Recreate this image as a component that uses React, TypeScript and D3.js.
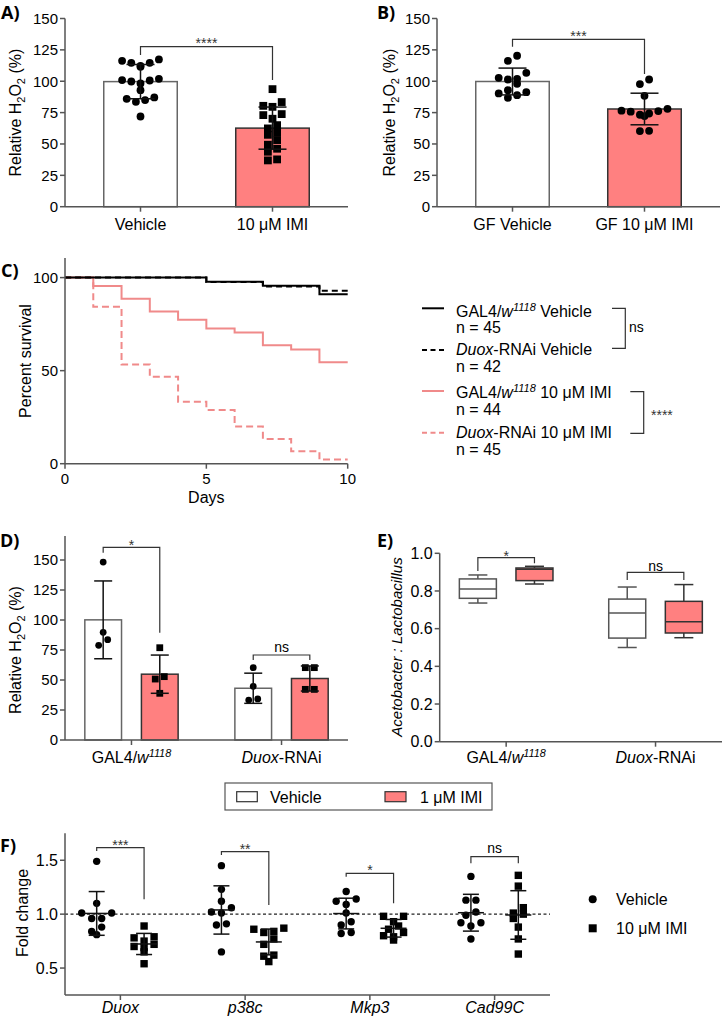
import React from 'react';
import * as d3 from 'd3';

const FONT = "'Liberation Sans', Arial, Helvetica, sans-serif";
const LABEL_FONT = "'Open Sans', 'Liberation Sans', Arial, sans-serif";
const PINK = '#ff8080';
const PINK_LINE = '#f08a8a';
const AX = '#555555';

// ---------- Panel A ----------
const aCategories = ['Vehicle', '10 μM IMI'];
const aVehicle = [117.4, 116.3, 114.7, 114.7, 112.3, 111.5, 101.9, 100.9, 100.6, 99.8, 98.2, 92.9, 87.1, 86.0, 85.0, 83.6, 71.9];
const aIMI = [93.7, 83.4, 80.4, 79.6, 73.8, 73.0, 70.1, 65.0, 62.4, 58.9, 57.3, 53.1, 49.4, 46.2, 43.8, 37.7, 36.9];

// ---------- Panel B ----------
const bCategories = ['GF Vehicle', 'GF 10 μM IMI'];
const bVehicle = [120.3, 116.3, 106.7, 102.7, 101.4, 101.9, 98.0, 92.9, 90.3, 86.8, 88.9, 91.3];
const bIMI = [101.4, 97.7, 88.4, 78.0, 76.5, 76.2, 75.7, 74.3, 73.3, 72.2, 60.5, 60.3];

// ---------- Panel C ----------
const cDays = [0, 1, 2, 3, 4, 5, 6, 7, 8, 9, 10];
const cGal4Vehicle = [100, 100, 100, 100, 100, 97.8, 97.8, 95.6, 95.6, 91.1, 91.1];
const cDuoxVehicle = [100, 100, 100, 100, 100, 97.6, 97.6, 95.2, 95.2, 92.9, 92.9];
const cGal4IMI = [100, 95.5, 88.6, 81.8, 77.3, 72.7, 70.5, 63.6, 61.4, 54.5, 54.5];
const cDuoxIMI = [100, 84.4, 53.3, 46.7, 33.3, 28.9, 20.0, 13.3, 6.7, 2.2, 2.2];
const cN = [45, 42, 44, 45];

// ---------- Panel D ----------
const dGroups = ['GAL4', 'Duox'];
const dVehicle = [[148.3, 89.7, 83.6, 78.9], [60.3, 44.7, 34.2, 33.3]];
const dIMI = [[76.9, 52.8, 50.8, 38.9], [60.3, 60.3, 42.2, 42.2]];

// ---------- Panel E : [min, q1, median, q3, max] ----------
const eGroups = ['GAL4', 'Duox'];
const eVehicle = [[0.736, 0.761, 0.81, 0.864, 0.885], [0.5, 0.55, 0.683, 0.757, 0.821]];
const eIMI = [[0.837, 0.855, 0.915, 0.922, 0.931], [0.552, 0.577, 0.637, 0.745, 0.834]];

// ---------- Panel F ----------
const fGenes = ['Duox', 'p38c', 'Mkp3', 'Cad99C'];
const fVehicle = [
  [1.49, 1.10, 1.01, 1.01, 0.96, 0.96, 0.88, 0.84, 0.81],
  [1.45, 1.23, 1.12, 1.06, 1.02, 1.01, 0.91, 0.90, 0.65],
  [1.21, 1.14, 1.12, 1.09, 1.01, 0.93, 0.90, 0.83, 0.82],
  [1.35, 1.13, 1.13, 1.02, 0.99, 0.92, 0.92, 0.89, 0.77],
];
const fIMI = [
  [0.89, 0.79, 0.78, 0.75, 0.72, 0.70, 0.69, 0.65, 0.54],
  [0.87, 0.86, 0.84, 0.83, 0.77, 0.72, 0.62, 0.61, 0.56],
  [0.98, 0.98, 0.93, 0.89, 0.86, 0.83, 0.80, 0.79, 0.76],
  [1.36, 1.26, 1.06, 1.01, 1.00, 0.96, 0.88, 0.77, 0.63],
];
const fSig = ['***', '**', '*', 'ns'];

// ---------- helpers ----------
function swarm(values: number[], y: (v: number) => number, spacing: number, thresh: number) {
  const idx = values.map((_, i) => i).sort((a, b) => values[b] - values[a]);
  const bins: number[][] = [];
  let cur: number[] = [];
  let top = 0;
  for (const i of idx) {
    const py = y(values[i]);
    if (cur.length && Math.abs(py - top) <= thresh) cur.push(i);
    else {
      if (cur.length) bins.push(cur);
      cur = [i];
      top = py;
    }
  }
  if (cur.length) bins.push(cur);
  const off = new Array(values.length).fill(0);
  for (const b of bins) {
    const k = b.length;
    const slots = d3.range(k).map((j) => (j - (k - 1) / 2) * spacing)
      .sort((p, q) => Math.abs(p) - Math.abs(q) || p - q);
    const sorted = b.slice().sort((p, q) => values[p] - values[q]);
    sorted.forEach((pi, j) => (off[pi] = slots[j]));
  }
  return off;
}

function YAxis({ x, scale, ticks, fmt, top, bottom, fs = 15 }: any) {
  return (
    <g>
      <line x1={x} x2={x} y1={top} y2={bottom} stroke={AX} strokeWidth={1.5} />
      {ticks.map((t: number) => (
        <g key={t}>
          <line x1={x - 5} x2={x} y1={scale(t)} y2={scale(t)} stroke={AX} strokeWidth={1.5} />
          <text x={x - 7} y={scale(t)} dy="0.36em" textAnchor="end" fontSize={fs}>{fmt(t)}</text>
        </g>
      ))}
    </g>
  );
}

function XAxis({ x1, x2, y, ticks }: any) {
  return (
    <g>
      <line x1={x1} x2={x2} y1={y} y2={y} stroke={AX} strokeWidth={1.5} />
      {ticks.map((t: number, i: number) => (
        <line key={i} x1={t} x2={t} y1={y} y2={y + 5} stroke={AX} strokeWidth={1.5} />
      ))}
    </g>
  );
}

function ErrBar({ x, y1, y2, cap, mid, midW }: any) {
  return (
    <g stroke="#111" strokeWidth={1.5}>
      <line x1={x} x2={x} y1={y1} y2={y2} />
      <line x1={x - cap / 2} x2={x + cap / 2} y1={y1} y2={y1} />
      <line x1={x - cap / 2} x2={x + cap / 2} y1={y2} y2={y2} />
      {mid !== undefined && <line x1={x - midW / 2} x2={x + midW / 2} y1={mid} y2={mid} />}
    </g>
  );
}

function Bracket({ x1, x2, y, l1, l2 }: any) {
  return <path d={`M${x1},${l1}V${y}H${x2}V${l2}`} fill="none" stroke="#333" strokeWidth={1.2} />;
}

function Marker({ shape, x, y, s }: any) {
  return shape === 'circle'
    ? <circle cx={x} cy={y} r={s / 2} fill="#000" />
    : <rect x={x - s / 2} y={y - s / 2} width={s} height={s} fill="#000" />;
}

function H2O2Label({ x, y }: any) {
  return (
    <text transform={`translate(${x},${y}) rotate(-90)`} textAnchor="middle" fontSize={16}>
      Relative H<tspan fontSize={11} dy={4}>2</tspan><tspan dy={-4}>O</tspan>
      <tspan fontSize={11} dy={4}>2</tspan><tspan dy={-4}> (%)</tspan>
    </text>
  );
}

function Gal4Label({ x, y, fs = 16 }: any) {
  return (
    <text x={x} y={y} textAnchor="middle" fontSize={fs}>
      GAL4/<tspan fontStyle="italic">w</tspan>
      <tspan fontStyle="italic" fontSize={fs * 0.68} dy={-6}>1118</tspan>
    </text>
  );
}

function DuoxLabel({ x, y, fs = 16 }: any) {
  return (
    <text x={x} y={y} textAnchor="middle" fontSize={fs}>
      <tspan fontStyle="italic">Duox</tspan>-RNAi
    </text>
  );
}

function BarPanel({ cats, series, xr, label, labelX, axisX, sig, br }: any) {
  const y = d3.scaleLinear().domain([0, 150]).range([206.7, 18.5]);
  const x = d3.scalePoint<string>().domain(cats).range(xr).padding(0.572);
  return (
    <g>
      <YAxis x={axisX} scale={y} ticks={d3.range(0, 151, 25)} fmt={(t: number) => String(t)} top={y(150)} bottom={y(0)} />
      {series.map((vals: number[], i: number) => {
        const cx = x(cats[i])!;
        const m = d3.mean(vals)!;
        const sd = d3.deviation(vals)!;
        const offs = swarm(vals, y, 9.2, 7);
        return (
          <g key={i}>
            <rect x={cx - 36.75} y={y(m)} width={73.5} height={y(0) - y(m)}
              fill={i ? PINK : '#fff'} stroke={i ? '#333' : '#666'} strokeWidth={1.5} />
            {vals.map((v, j) => (
              <Marker key={j} shape={label === 'A' ? (i ? 'square' : 'circle') : 'circle'} x={cx + offs[j]} y={y(v)} s={7.8} />
            ))}
            <ErrBar x={cx} y1={y(m + sd)} y2={y(m - sd)} cap={28} />
          </g>
        );
      })}
      <XAxis x1={axisX} x2={xr[1]} y={y(0)} ticks={cats.map((c: string) => x(c))} />
      {cats.map((c: string) => (
        <text key={c} x={x(c)} y={230} textAnchor="middle" fontSize={16}>{c}</text>
      ))}
      <H2O2Label x={labelX} y={112.6} />
      <Bracket x1={x(cats[0])} x2={x(cats[1])} y={br.y} l1={br.l1} l2={br.l2} />
      <text x={(x(cats[0])! + x(cats[1])!) / 2} y={br.y + 1.6} textAnchor="middle" fontSize={14} fill="#333">{sig}</text>
    </g>
  );
}

export default function App() {
  // ----- Panel C scales
  const xC = d3.scaleLinear().domain([0, 10]).range([65, 347.7]);
  const yC = d3.scaleLinear().domain([0, 100]).range([463.7, 277.6]);
  const line = d3.line<[number, number]>().x((d) => xC(d[0])).y((d) => yC(d[1])).curve(d3.curveStepAfter);
  const toPts = (arr: number[]) => cDays.map((d, i) => [d, arr[i]] as [number, number]);

  // ----- Panel D scales
  const yD = d3.scaleLinear().domain([0, 170]).range([740, 536]);
  const xD = d3.scalePoint<string>().domain(dGroups).range([65, 348]).padding(0.443);

  // ----- Panel E scales
  const yE = d3.scaleLinear().domain([0, 1]).range([741.7, 553.3]);
  const xE = d3.scalePoint<string>().domain(eGroups).range([439.7, 722]).padding(0.445);

  // ----- Panel F scales
  const yF = d3.scaleLinear().domain([0.25, 1.75]).range([995, 833.3]);
  const xF = d3.scalePoint<string>().domain(fGenes).range([65, 550]).padding(0.444);

  const legendC = [
    { stroke: '#000', dash: undefined, y: 308.3 },
    { stroke: '#000', dash: '5,3.5', y: 350 },
    { stroke: PINK_LINE, dash: undefined, y: 391 },
    { stroke: PINK_LINE, dash: '5,3.5', y: 432.7 },
  ];

  return (
    <svg width={724} height={1021} style={{ position: 'absolute', left: 0, top: 0, background: '#fff' }}
      fontFamily={FONT} fill="#000">
      <rect width={724} height={1021} fill="#fff" />

      {/* Panel labels */}
      <g fontFamily={LABEL_FONT} fontWeight="bold" fontSize={18}>
        <text x={1} y={19}>A)</text>
        <text x={377} y={19}>B)</text>
        <text x={1} y={277}>C)</text>
        <text x={0} y={547}>D)</text>
        <text x={377} y={547}>E)</text>
        <text x={0} y={852}>F)</text>
      </g>

      {/* ---------- A ---------- */}
      <BarPanel cats={aCategories} series={[aVehicle, aIMI]} xr={[65, 348]} axisX={65} label="A" labelX={21}
        sig="****" br={{ y: 46.7, l1: 55, l2: 80 }} />

      {/* ---------- B ---------- */}
      <BarPanel cats={bCategories} series={[bVehicle, bIMI]} xr={[437, 720]} axisX={437} label="B" labelX={395}
        sig="***" br={{ y: 39.3, l1: 46.7, l2: 74 }} />

      {/* ---------- C ---------- */}
      <g>
        <path d={line(toPts(cGal4IMI))!} fill="none" stroke={PINK_LINE} strokeWidth={2} />
        <path d={line(toPts(cDuoxIMI))!} fill="none" stroke={PINK_LINE} strokeWidth={2} strokeDasharray="7,4" />
        <path d={line(toPts(cGal4Vehicle))!} fill="none" stroke="#000" strokeWidth={2} />
        <path d={line(toPts(cDuoxVehicle))!} fill="none" stroke="#000" strokeWidth={2} strokeDasharray="6,4" />
        <YAxis x={65} scale={yC} ticks={[0, 50, 100]} fmt={(t: number) => String(t)} top={258} bottom={yC(0)} />
        <XAxis x1={65} x2={xC(10)} y={yC(0)} ticks={[0, 5, 10].map((t) => xC(t))} />
        {[0, 5, 10].map((t) => (
          <text key={t} x={xC(t)} y={483.5} textAnchor="middle" fontSize={15}>{t}</text>
        ))}
        <text x={xC(5)} y={503} textAnchor="middle" fontSize={16}>Days</text>
        <text transform="translate(31,361) rotate(-90)" textAnchor="middle" fontSize={16}>Percent survival</text>

        {/* legend */}
        {legendC.map((l, i) => (
          <line key={i} x1={422} x2={444} y1={l.y} y2={l.y} stroke={l.stroke} strokeWidth={2} strokeDasharray={l.dash} />
        ))}
        <g fontSize={16}>
          <text x={456} y={316.7}>GAL4/<tspan fontStyle="italic">w</tspan><tspan fontStyle="italic" fontSize={11} dy={-6}>1118</tspan><tspan dy={6}> Vehicle</tspan></text>
          <text x={456} y={333.3}>n = {cN[0]}</text>
          <text x={456} y={355}><tspan fontStyle="italic">Duox</tspan>-RNAi Vehicle</text>
          <text x={456} y={371.7}>n = {cN[1]}</text>
          <text x={456} y={398.3}>GAL4/<tspan fontStyle="italic">w</tspan><tspan fontStyle="italic" fontSize={11} dy={-6}>1118</tspan><tspan dy={6}> 10 μM IMI</tspan></text>
          <text x={456} y={415}>n = {cN[2]}</text>
          <text x={456} y={438.3}><tspan fontStyle="italic">Duox</tspan>-RNAi 10 μM IMI</text>
          <text x={456} y={455}>n = {cN[3]}</text>
        </g>
        <path d="M612,308.3H625.3V348.3H612" fill="none" stroke="#333" strokeWidth={1.2} />
        <text x={629} y={331.7} fontSize={14}>ns</text>
        <path d="M630.3,391.7H643.7V433.3H630.3" fill="none" stroke="#333" strokeWidth={1.2} />
        <text x={651} y={420} fontSize={14} fill="#333">****</text>
      </g>

      {/* ---------- D ---------- */}
      <g>
        <YAxis x={65} scale={yD} ticks={d3.range(0, 151, 25)} fmt={(t: number) => String(t)} top={yD(170)} bottom={yD(0)} />
        {dGroups.map((g, gi) => {
          const c = xD(g)!;
          return [dVehicle[gi], dIMI[gi]].map((vals, i) => {
            const cx = c + (i ? 28.3 : -28.3);
            const m = d3.mean(vals)!;
            const sd = d3.deviation(vals)!;
            const offs = swarm(vals, yD, 9, 6);
            return (
              <g key={`${gi}-${i}`}>
                <rect x={cx - 18.35} y={yD(m)} width={36.7} height={yD(0) - yD(m)}
                  fill={i ? PINK : '#fff'} stroke={i ? '#333' : '#666'} strokeWidth={1.5} />
                {vals.map((v, j) => (
                  <Marker key={j} shape={i ? 'square' : 'circle'} x={cx + offs[j]} y={yD(v)} s={6.8} />
                ))}
                <ErrBar x={cx} y1={yD(m + sd)} y2={yD(m - sd)} cap={18} />
              </g>
            );
          });
        })}
        <XAxis x1={65} x2={348} y={yD(0)} ticks={dGroups.map((g) => xD(g))} />
        <Gal4Label x={xD('GAL4')} y={763} />
        <DuoxLabel x={xD('Duox')} y={763} />
        <H2O2Label x={21} y={650} />
        <Bracket x1={xD('GAL4')! - 28.3} x2={xD('GAL4')! + 28.3} y={547.3} l1={552.7} l2={632.7} />
        <text x={xD('GAL4')} y={549.5} textAnchor="middle" fontSize={14} fill="#333">*</text>
        <Bracket x1={xD('Duox')! - 28.3} x2={xD('Duox')! + 28.3} y={655} l1={660} l2={660} />
        <text x={xD('Duox')} y={651.5} textAnchor="middle" fontSize={14}>ns</text>
      </g>

      {/* ---------- E ---------- */}
      <g>
        <YAxis x={439.7} scale={yE} ticks={d3.range(0, 1.01, 0.2)} fmt={d3.format('.1f')} top={yE(1)} bottom={yE(0)} fs={16} />
        {eGroups.map((g, gi) => {
          const c = xE(g)!;
          return [eVehicle[gi], eIMI[gi]].map((b, i) => {
            const cx = c + (i ? 28.3 : -28.3);
            const [mn, q1, md, q3, mx] = b;
            const stroke = i ? '#333' : '#555';
            return (
              <g key={`${gi}-${i}`} stroke={stroke} strokeWidth={1.5}>
                <line x1={cx} x2={cx} y1={yE(mx)} y2={yE(q3)} />
                <line x1={cx} x2={cx} y1={yE(q1)} y2={yE(mn)} />
                <line x1={cx - 9.5} x2={cx + 9.5} y1={yE(mx)} y2={yE(mx)} />
                <line x1={cx - 9.5} x2={cx + 9.5} y1={yE(mn)} y2={yE(mn)} />
                <rect x={cx - 18.5} y={yE(q3)} width={37} height={yE(q1) - yE(q3)} fill={i ? PINK : '#fff'} />
                <line x1={cx - 18.5} x2={cx + 18.5} y1={yE(md)} y2={yE(md)} />
              </g>
            );
          });
        })}
        <XAxis x1={439.7} x2={722} y={yE(0)} ticks={eGroups.map((g) => xE(g))} />
        <Gal4Label x={xE('GAL4')} y={763} />
        <DuoxLabel x={xE('Duox')} y={763} />
        <text transform="translate(402,647) rotate(-90)" textAnchor="middle" fontSize={15} fontStyle="italic">Acetobacter : Lactobacillus</text>
        <Bracket x1={xE('GAL4')! - 28.3} x2={xE('GAL4')! + 28.3} y={557.7} l1={571} l2={563.3} />
        <text x={xE('GAL4')} y={561} textAnchor="middle" fontSize={14} fill="#333">*</text>
        <Bracket x1={xE('Duox')! - 28.3} x2={xE('Duox')! + 28.3} y={572.3} l1={580} l2={580} />
        <text x={xE('Duox')} y={570.7} textAnchor="middle" fontSize={14}>ns</text>
      </g>

      {/* ---------- D/E legend ---------- */}
      <g>
        <rect x={225} y={783} width={267} height={27} fill="#fff" stroke="#555" strokeWidth={1.2} />
        <rect x={236.7} y={791.7} width={20.6} height={10} fill="#fff" stroke="#333" strokeWidth={1.2} />
        <text x={270} y={803} fontSize={16}>Vehicle</text>
        <rect x={385} y={791.7} width={21} height={10} fill={PINK} stroke="#333" strokeWidth={1.2} />
        <text x={420} y={803} fontSize={16}>1 μM IMI</text>
      </g>

      {/* ---------- F ---------- */}
      <g>
        <line x1={65} x2={550} y1={yF(1)} y2={yF(1)} stroke="#222" strokeWidth={1.2} strokeDasharray="3,2.5" />
        {fGenes.map((g, gi) => {
          const c = xF(g)!;
          return [fVehicle[gi], fIMI[gi]].map((vals, i) => {
            const cx = c + (i ? 23.7 : -23.7);
            const m = d3.mean(vals)!;
            const sd = d3.deviation(vals)!;
            const offs = swarm(vals, yF, 10, 6);
            return (
              <g key={`${gi}-${i}`}>
                {vals.map((v, j) => (
                  <Marker key={j} shape={i ? 'square' : 'circle'} x={cx + offs[j]} y={yF(v)} s={7.4} />
                ))}
                <ErrBar x={cx} y1={yF(m + sd)} y2={yF(m - sd)} cap={16} mid={yF(m)} midW={26} />
              </g>
            );
          });
        })}
        <YAxis x={65} scale={yF} ticks={[0.5, 1.0, 1.5]} fmt={d3.format('.1f')} top={833.3} bottom={995} fs={16} />
        <XAxis x1={65} x2={550} y={995} ticks={fGenes.map((g) => xF(g))} />
        {fGenes.map((g) => (
          <text key={g} x={xF(g)} y={1013} textAnchor="middle" fontSize={16} fontStyle="italic">{g}</text>
        ))}
        <text transform="translate(27.5,913) rotate(-90)" textAnchor="middle" fontSize={16}>Fold change</text>
        {/* significance */}
        <Bracket x1={xF('Duox')! - 23.7} x2={xF('Duox')! + 23.7} y={847.7} l1={851} l2={899.3} />
        <Bracket x1={xF('p38c')! - 23.7} x2={xF('p38c')! + 23.7} y={851.7} l1={855} l2={905} />
        <Bracket x1={xF('Mkp3')! - 23.7} x2={xF('Mkp3')! + 23.7} y={873.3} l1={876.7} l2={903.3} />
        <Bracket x1={xF('Cad99C')! - 23.7} x2={xF('Cad99C')! + 23.7} y={856.7} l1={863.3} l2={863.3} />
        {fGenes.map((g, gi) => {
          const yy = [850, 854.3, 875, 853.3][gi];
          return (
            <text key={g} x={xF(g)} y={yy} textAnchor="middle" fontSize={14} fill={fSig[gi] === 'ns' ? '#000' : '#333'}>{fSig[gi]}</text>
          );
        })}
        {/* legend */}
        <Marker shape="circle" x={592.7} y={899.3} s={8} />
        <text x={616} y={905} fontSize={16}>Vehicle</text>
        <Marker shape="square" x={592.7} y={928.3} s={8} />
        <text x={616} y={934} fontSize={16}>10 μM IMI</text>
      </g>
    </svg>
  );
}
